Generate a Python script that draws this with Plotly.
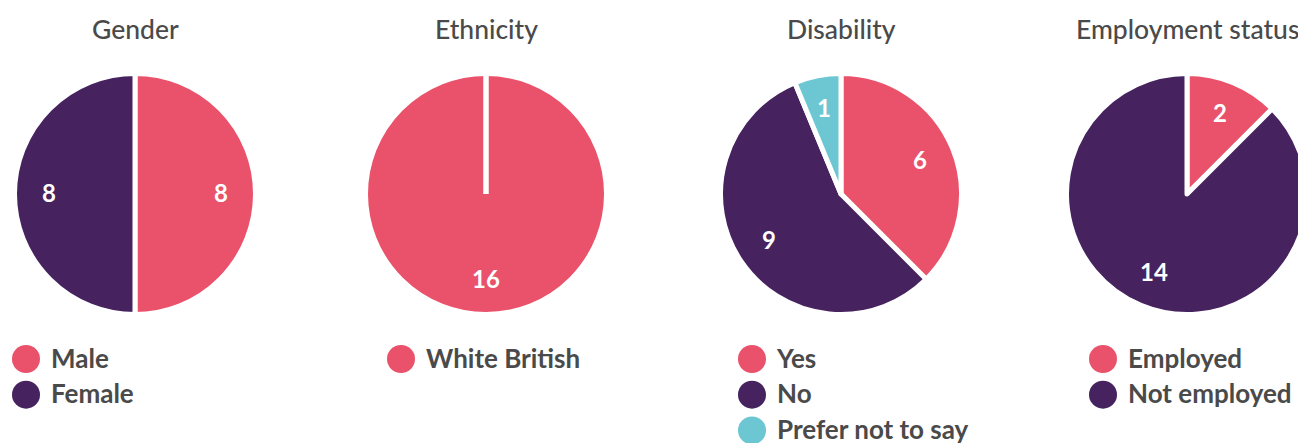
import math
import plotly.graph_objects as go

# ---- data ----
titles = ["Gender", "Ethnicity", "Disability", "Employment status"]
gender_labels = ["Male", "Female"]
gender_values = [8, 8]
ethnicity_labels = ["White British"]
ethnicity_values = [16]
disability_labels = ["Yes", "No", "Prefer not to say"]
disability_values = [6, 9, 1]
employment_labels = ["Employed", "Not employed"]
employment_values = [2, 14]

RED = "#E9526A"
PURPLE = "#46235F"
TEAL = "#6DC7D3"
GREY = "#4A4A4A"
slice_colors = [RED, PURPLE, TEAL]

groups = [
    (gender_labels, gender_values),
    (ethnicity_labels, ethnicity_values),
    (disability_labels, disability_values),
    (employment_labels, employment_values),
]

# ---- layout geometry (pixels) ----
W, H = 1400, 443
centers_x = [135, 486, 841, 1187]
legend_x = [26, 401, 752, 1103]
center_y = 194
radius = 120.5
label_r = 86
title_y = 30
legend_y0 = 359
legend_dy = 35.7
text_gap = 25
text_dy = 2

fig = go.Figure()

annotations = []
shapes = []
for (labels, values), cx, lx, title in zip(groups, centers_x, legend_x, titles):
    fig.add_trace(go.Pie(
        labels=labels, values=values, sort=False, direction="clockwise", rotation=0,
        marker=dict(colors=slice_colors[:len(values)], line=dict(color="white", width=5)),
        textinfo="none", hoverinfo="label+value", showlegend=False,
        domain=dict(x=[(cx - radius) / W, (cx + radius) / W],
                    y=[(H - center_y - radius) / H, (H - center_y + radius) / H]),
    ))
    # value labels at mid-angle of each slice
    total = sum(values)
    cum = 0
    for v in values:
        mid = (cum + v / 2) / total * 2 * math.pi
        cum += v
        annotations.append(dict(
            x=cx + label_r * math.sin(mid), y=center_y - label_r * math.cos(mid),
            xref="x", yref="y", text=str(v), showarrow=False, yshift=2,
            font=dict(family="Lato", size=24, color="white", weight=700),
        ))
    if len(values) == 1:
        shapes.append(dict(type="line", xref="x", yref="y", x0=cx, x1=cx,
                           y0=center_y - radius, y1=center_y,
                           line=dict(color="white", width=5.5)))
    annotations.append(dict(
        x=cx, y=title_y, xref="x", yref="y", text=title, showarrow=False, yshift=1,
        font=dict(family="Lato", size=26.5, color=GREY, weight=500),
    ))
    # legend
    ys = [legend_y0 + legend_dy * i for i in range(len(labels))]
    fig.add_trace(go.Scatter(
        x=[lx] * len(labels), y=ys, mode="markers",
        marker=dict(size=28, color=slice_colors[:len(labels)], line=dict(width=0)),
        hoverinfo="skip", showlegend=False,
    ))
    fig.add_trace(go.Scatter(
        x=[lx + text_gap] * len(labels), y=[y + text_dy for y in ys], mode="text", text=labels,
        textposition="middle right",
        textfont=dict(family="Lato", size=26, color=GREY, weight=700),
        hoverinfo="skip", showlegend=False,
    ))

fig.update_layout(
    width=W, height=H, autosize=False,
    margin=dict(l=0, r=0, t=0, b=0),
    paper_bgcolor="white", plot_bgcolor="white",
    xaxis=dict(range=[0, W], visible=False, fixedrange=True, domain=[0, 1]),
    yaxis=dict(range=[H, 0], visible=False, fixedrange=True, domain=[0, 1]),
    annotations=annotations, shapes=shapes,
    font=dict(family="Lato"),
)

fig.write_html("out.html",
               post_script="document.body.style.margin='0';document.body.style.overflow='hidden';")
